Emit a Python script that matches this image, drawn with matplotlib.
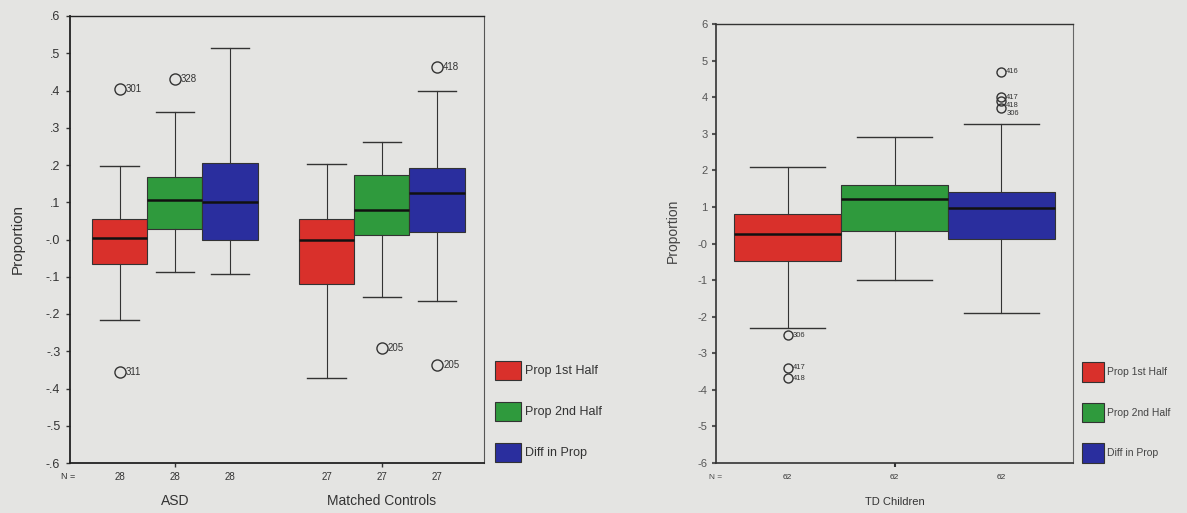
import matplotlib.pyplot as plt
from matplotlib.patches import Patch
from matplotlib.transforms import blended_transform_factory

plt.rcParams['font.family'] = ['Liberation Sans', 'DejaVu Sans']

series = ['Prop 1st Half', 'Prop 2nd Half', 'Diff in Prop']
colors = ['#d9302b', '#2f9a3d', '#2a2e9e']

# box summaries per series: whislo, q1, med, q3, whishi
asd_stats = [[-0.215, -0.065, 0.003, 0.056, 0.198],
             [-0.088, 0.027, 0.107, 0.169, 0.343],
             [-0.092, 0.000, 0.102, 0.206, 0.515]]
asd_out = [[(0.405, '301'), (-0.357, '311')],
           [(0.432, '328')],
           []]
asd_n = [28, 28, 28]

mc_stats = [[-0.372, -0.120, 0.000, 0.056, 0.204],
            [-0.155, 0.011, 0.078, 0.174, 0.263],
            [-0.166, 0.021, 0.124, 0.191, 0.398]]
mc_out = [[],
          [(-0.292, '205')],
          [(0.464, '418'), (-0.338, '205')]]
mc_n = [27, 27, 27]

td_stats = [[-0.232, -0.049, 0.027, 0.082, 0.210],
            [-0.100, 0.033, 0.123, 0.161, 0.290],
            [-0.189, 0.011, 0.098, 0.142, 0.328]]
td_out = [[(-0.251, '306'), (-0.339, '417'), (-0.369, '418')],
          [],
          [(0.470, '416'), (0.400, '417'), (0.390, '418'), (0.370, '306')]]
td_n = [62, 62, 62]

yticks = [0.6, 0.5, 0.4, 0.3, 0.2, 0.1, 0.0, -0.1, -0.2, -0.3, -0.4, -0.5, -0.6]
left_ylabels = ['.6', '.5', '.4', '.3', '.2', '.1', '-.0', '-.1', '-.2', '-.3', '-.4', '-.5', '-.6']
right_ylabels = ['6', '5', '4', '3', '2', '1', '-0', '-1', '-2', '-3', '-4', '-5', '-6']

bg = '#e4e4e2'


def draw_group(ax, center, stats, outliers, counts, cat, fs_n, fs_cat, ms, fs_out, cat_y, n_y, ppu):
    # ppu = pixels per data unit on the y axis (used to keep outlier labels apart)
    pos = [center - 1, center, center + 1]
    bstats = []
    for s, o in zip(stats, outliers):
        bstats.append({'whislo': s[0], 'q1': s[1], 'med': s[2], 'q3': s[3],
                       'whishi': s[4], 'fliers': [v for v, _ in o]})
    parts = ax.bxp(bstats, positions=pos, widths=1.0, patch_artist=True,
                   capwidths=0.7, manage_ticks=False,
                   boxprops=dict(edgecolor='#333333', linewidth=0.8),
                   medianprops=dict(color='#111111', linewidth=1.8),
                   whiskerprops=dict(color='#333333', linewidth=0.8),
                   capprops=dict(color='#333333', linewidth=1.0),
                   flierprops=dict(marker='o', markerfacecolor='none',
                                   markeredgecolor='#333333', markersize=ms,
                                   markeredgewidth=1.0))
    for box, c in zip(parts['boxes'], colors):
        box.set_facecolor(c)
    gap = 8.0 / ppu
    for p, o in zip(pos, outliers):
        last = None
        for v, lab in sorted(o, reverse=True):
            ly = v
            if last is not None and last - ly < gap:
                ly = last - gap
            dy = (ly - v) * ppu * 0.72
            ax.annotate(lab, (p, v), xytext=(ms * 0.55, dy), textcoords='offset points',
                        va='center', ha='left', fontsize=fs_out, color='#333333')
            last = ly
    tr = blended_transform_factory(ax.transData, ax.transAxes)
    for p, n in zip(pos, counts):
        ax.text(p, n_y, str(n), transform=tr, ha='center', va='center',
                fontsize=fs_n, color='#333333')
    ax.text(center, cat_y, cat, transform=tr, ha='center', va='center',
            fontsize=fs_cat, color='#333333')


fig = plt.figure(figsize=(11.87, 5.13), dpi=100, facecolor=bg)

# left panel
ax1 = fig.add_axes([70 / 1187, 1 - 463 / 513, 414 / 1187, 447 / 513], facecolor=bg)
draw_group(ax1, 1.9, asd_stats, asd_out, asd_n, 'ASD', 7, 10, 8, 7, -0.085, -0.031, 447 / 1.2)
draw_group(ax1, 5.65, mc_stats, mc_out, mc_n, 'Matched Controls', 7, 10, 8, 7, -0.085, -0.031, 447 / 1.2)
ax1.set_xlim(0, 7.5)
ax1.set_ylim(-0.6, 0.6)
ax1.set_yticks(yticks)
ax1.set_yticklabels(left_ylabels)
ax1.set_xticks([1.9, 5.65])
ax1.set_xticklabels([])
ax1.tick_params(axis='y', length=3, width=1, pad=4, labelsize=9, colors='#333333')
ax1.tick_params(axis='x', length=3, width=1, direction='out', colors='#333333')
ax1.text(-0.005, -0.031, 'N =', transform=ax1.transAxes, ha='center', va='center',
         fontsize=6.5, color='#333333')
ax1.set_ylabel('Proportion', fontsize=11, color='#333333')
ax1.yaxis.set_label_coords(-0.11, 0.5)
for side in ['left', 'bottom', 'top']:
    ax1.spines[side].set_color('#222222')
    ax1.spines[side].set_linewidth(1.3)
ax1.spines['top'].set_linewidth(1.0)
ax1.spines['right'].set_color('#555555')
ax1.spines['right'].set_linewidth(0.8)

handles = [Patch(facecolor=c, edgecolor='#333333', linewidth=0.8) for c in colors]
fig.legend(handles, series, loc='upper left', bbox_to_anchor=(495 / 1187, 1 - 361 / 513),
           frameon=False, fontsize=9, handlelength=2.1, handleheight=1.9,
           labelspacing=1.8, handletextpad=0.3, borderpad=0, borderaxespad=0,
           labelcolor='#333333')

# right panel
ax2 = fig.add_axes([716 / 1187, 1 - 463 / 513, 357 / 1187, 439 / 513], facecolor=bg)
draw_group(ax2, 1.67, td_stats, td_out, td_n, 'TD Children', 6, 8, 6.5, 5.5, -0.089, -0.032, 439 / 1.2)
ax2.set_xlim(0, 3.34)
ax2.set_ylim(-0.6, 0.6)
ax2.set_yticks(yticks)
ax2.set_yticklabels(right_ylabels)
ax2.set_xticks([1.67])
ax2.set_xticklabels([])
ax2.tick_params(axis='y', length=3, width=1.5, pad=3, labelsize=8, colors='#555555')
ax2.tick_params(axis='x', length=3, width=1.5, direction='out', colors='#333333')
ax2.text(0.0, -0.032, 'N =', transform=ax2.transAxes, ha='center', va='center',
         fontsize=6, color='#444444')
ax2.set_ylabel('Proportion', fontsize=10, color='#444444')
ax2.yaxis.set_label_coords(-0.10, 0.53)
for side in ['left', 'bottom', 'top']:
    ax2.spines[side].set_color('#333333')
    ax2.spines[side].set_linewidth(1.2)
ax2.spines['top'].set_linewidth(1.0)
ax2.spines['right'].set_color('#666666')
ax2.spines['right'].set_linewidth(0.8)

fig.legend(handles, series, loc='upper left', bbox_to_anchor=(1082 / 1187, 1 - 362 / 513),
           frameon=False, fontsize=7.5, handlelength=2.1, handleheight=2.55,
           labelspacing=2.0, handletextpad=0.3, borderpad=0, borderaxespad=0,
           labelcolor='#444444')

fig.savefig('out.png', dpi=100, facecolor=bg)
